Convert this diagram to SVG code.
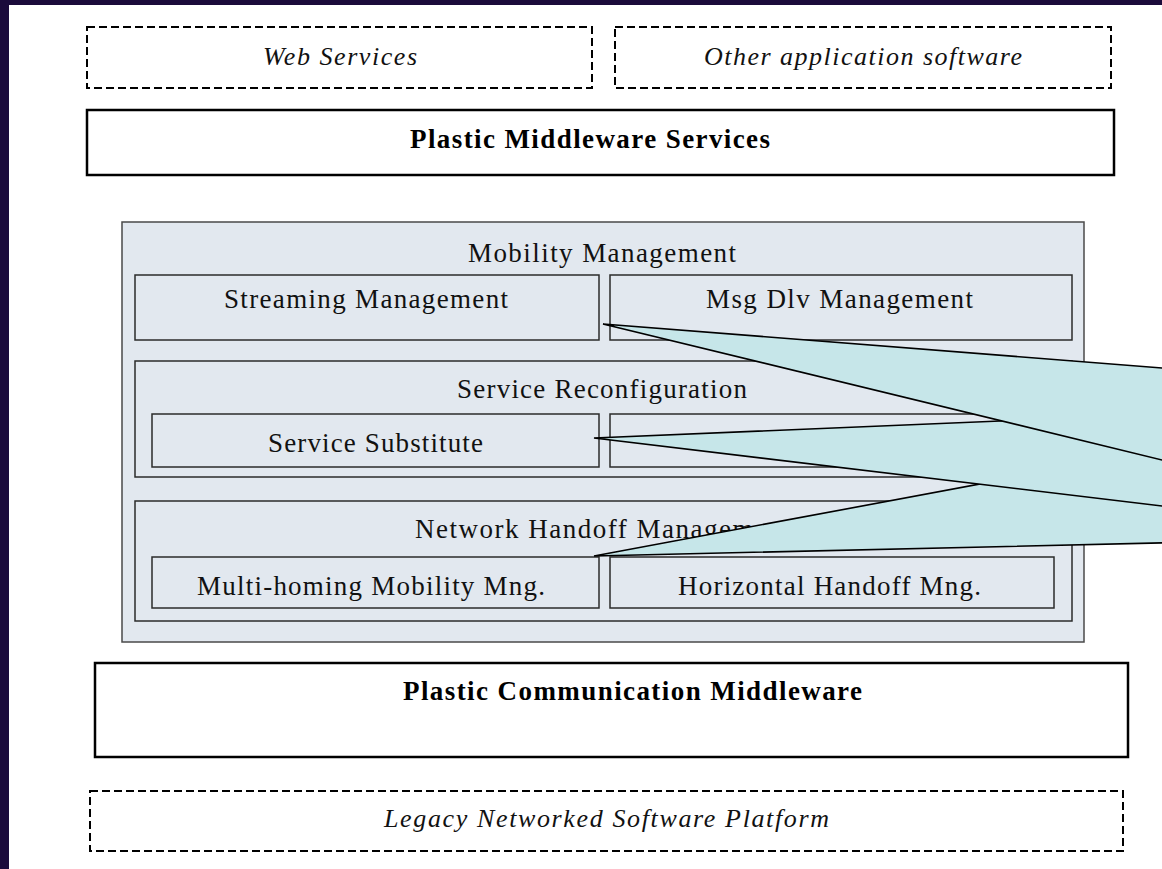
<svg xmlns="http://www.w3.org/2000/svg" width="1162" height="869" viewBox="0 0 1162 869">
  <style>
    .dash { fill: #ffffff; stroke: #000000; stroke-width: 2; stroke-dasharray: 8 4; }
    .solid { fill: #ffffff; stroke: #000000; stroke-width: 2.5; }
    .outer { fill: #e2e8ef; stroke: #4a4a4a; stroke-width: 1.5; }
    .inner { fill: #e2e8ef; stroke: #2b2b2b; stroke-width: 1.5; }
    .callout { fill: #c6e6e9; stroke: #000000; stroke-width: 1.6; stroke-linejoin: miter; }
    .lbl { font-family: "Liberation Serif", "Times New Roman", serif; font-size: 27px; fill: #111111; }
    .ital { font-family: "Liberation Serif", "Times New Roman", serif; font-style: italic; font-size: 26px; fill: #111111; }
    .bold { font-family: "Liberation Serif", "Times New Roman", serif; font-weight: bold; font-size: 27px; fill: #000000; }
  </style>

  <!-- page background and slide frame -->
  <rect x="0" y="0" width="1162" height="869" fill="#ffffff"/>
  <rect x="0" y="0" width="1162" height="5" fill="#1b0b3b"/>
  <rect x="0" y="0" width="9" height="869" fill="#1b0b3b"/>

  <!-- application layer -->
  <g id="web-services">
    <rect class="dash" x="87" y="27" width="505" height="61"/>
    <text class="ital" x="263" y="65" textLength="154">Web Services</text>
  </g>
  <g id="other-application-software">
    <rect class="dash" x="615" y="27" width="496" height="61"/>
    <text class="ital" x="704" y="65" textLength="318">Other application software</text>
  </g>

  <g id="plastic-middleware-services">
    <rect class="solid" x="87" y="110" width="1027" height="65"/>
    <text class="bold" x="410" y="148" textLength="360">Plastic Middleware Services</text>
  </g>

  <!-- mobility management block -->
  <g id="mobility-management">
    <rect class="outer" x="122" y="222" width="962" height="420"/>
    <text class="lbl" x="468" y="262" textLength="268">Mobility Management</text>
  </g>
  <g id="streaming-management">
    <rect class="inner" x="135" y="275" width="464" height="65"/>
    <text class="lbl" x="224" y="308" textLength="284">Streaming Management</text>
  </g>
  <g id="msg-dlv-management">
    <rect class="inner" x="610" y="275" width="462" height="65"/>
    <text class="lbl" x="706" y="308" textLength="267">Msg Dlv Management</text>
  </g>

  <g id="service-reconfiguration">
    <rect class="inner" x="135" y="361" width="937" height="116"/>
    <text class="lbl" x="457" y="398" textLength="290">Service Reconfiguration</text>
  </g>
  <g id="service-substitute">
    <rect class="inner" x="152" y="414" width="447" height="53"/>
    <text class="lbl" x="268" y="452" textLength="215">Service Substitute</text>
  </g>
  <g id="service-reconfiguration-right">
    <rect class="inner" x="610" y="414" width="444" height="53"/>
  </g>

  <g id="network-handoff-management">
    <rect class="inner" x="135" y="501" width="937" height="120"/>
    <text class="lbl" x="415" y="538" textLength="376">Network Handoff Management</text>
  </g>
  <g id="multi-homing-mobility">
    <rect class="inner" x="152" y="557" width="447" height="51"/>
    <text class="lbl" x="197" y="595" textLength="348">Multi-homing Mobility Mng.</text>
  </g>
  <g id="horizontal-handoff">
    <rect class="inner" x="610" y="557" width="444" height="51"/>
    <text class="lbl" x="678" y="595" textLength="303">Horizontal Handoff Mng.</text>
  </g>

  <!-- callout wedges, body lies beyond the right edge -->
  <g id="callouts">
    <polygon class="callout" points="594,556 1200,443 1200,542"/>
    <polygon class="callout" points="594,438 1200,412.6 1200,510.5"/>
    <polygon class="callout" points="603,324 1200,371 1200,469.2"/>
  </g>

  <!-- lower layers -->
  <g id="plastic-communication-middleware">
    <rect class="solid" x="95" y="663" width="1033" height="94"/>
    <text class="bold" x="403" y="700" textLength="459">Plastic Communication Middleware</text>
  </g>
  <g id="legacy-platform">
    <rect class="dash" x="90" y="791" width="1033" height="60"/>
    <text class="ital" x="384" y="827" textLength="445">Legacy Networked Software Platform</text>
  </g>
</svg>
